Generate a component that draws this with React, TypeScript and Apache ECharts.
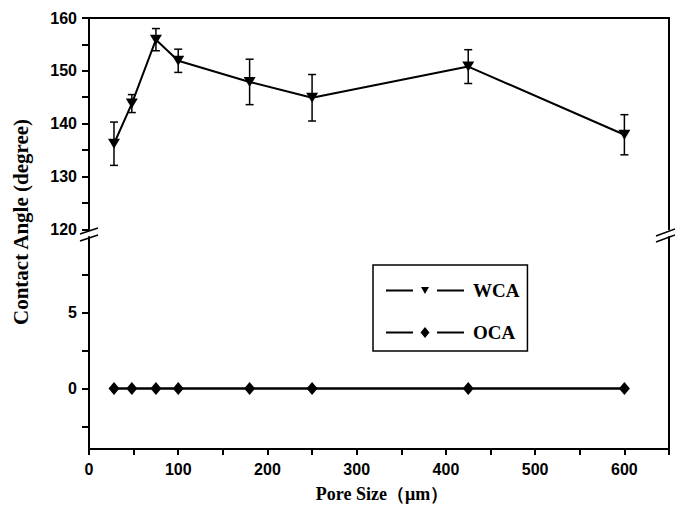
import React, { useEffect, useRef } from "react";
import * as echarts from "echarts";

const poreSize = [28, 48, 75, 100, 180, 250, 425, 600];
const wca = [136.2, 143.8, 155.9, 151.9, 147.9, 144.9, 150.8, 137.9];
const wcaErr = [4.1, 1.7, 2.1, 2.2, 4.3, 4.4, 3.2, 3.8];
const oca = [0, 0, 0, 0, 0, 0, 0, 0];

const upperLabels = [120, 130, 140, 150, 160];
const lowerTicks = [-2.5, 0, 2.5, 5, 7.5];
const lowerLabels = [0, 5];

const BLACK = "#000";
const tickFont = { fontFamily: "Liberation Sans", fontWeight: "bold" as const, fontSize: 16, color: BLACK };
const serif = "Liberation Serif";

// legend icons: line segment, gap, marker, gap, line segment (78 x 12 box)
const segs = "M0 5 L27 5 L27 7 L0 7 Z M51 5 L78 5 L78 7 L51 7 Z";
const dots = "M39 0 L39.02 0 L39.02 0.02 Z M39 12 L39.02 12 L39.02 11.98 Z";
const wcaIcon = "path://" + segs + " M35 2.5 L43 2.5 L39 9.5 Z " + dots;
const ocaIcon = "path://" + segs + " M39 0.5 L43.5 6 L39 11.5 L34.5 6 Z " + dots;

export default function App() {
  const ref = useRef<HTMLDivElement>(null);
  useEffect(() => {
    if (!ref.current) return;
    const chart = echarts.init(ref.current, null, { renderer: "svg" });
    const line = { lineStyle: { color: BLACK, width: 2 } };
    const option: any = {
      animation: false,
      backgroundColor: "#fff",
      grid: [
        { left: 89, top: 18, width: 580, height: 211.3 },
        { left: 89, top: 237, width: 580, height: 212 },
      ],
      xAxis: [
        {
          type: "value", gridIndex: 0, position: "top", min: 0, max: 650,
          axisLine: { show: true, onZero: false, ...line },
          axisTick: { show: false }, axisLabel: { show: false }, splitLine: { show: false },
        },
        {
          type: "value", gridIndex: 1, position: "bottom", min: 0, max: 650, interval: 50,
          axisLine: { show: true, onZero: false, ...line },
          axisTick: { show: true, length: 6, lineStyle: { color: BLACK, width: 2 } },
          axisLabel: {
            ...tickFont, margin: 12,
            formatter: (v: number) => (v % 100 === 0 && v <= 600 ? String(v) : ""),
          },
          splitLine: { show: false },
        },
      ],
      yAxis: [
        {
          type: "value", gridIndex: 0, position: "left", min: 120, max: 160, interval: 5,
          axisLine: { show: true, onZero: false, ...line },
          axisTick: { show: true, length: 7, lineStyle: { color: BLACK, width: 2 } },
          axisLabel: {
            ...tickFont, margin: 12,
            formatter: (v: number) => (upperLabels.includes(v) ? String(v) : ""),
          },
          splitLine: { show: false },
        },
        {
          type: "value", gridIndex: 0, position: "right", min: 120, max: 160,
          axisLine: { show: true, onZero: false, ...line },
          axisTick: { show: false }, axisLabel: { show: false }, splitLine: { show: false },
        },
        {
          type: "value", gridIndex: 1, position: "left", min: -4, max: 10,
          axisLine: { show: true, onZero: false, ...line },
          axisTick: { show: true, length: 7, customValues: lowerTicks, lineStyle: { color: BLACK, width: 2 } },
          axisLabel: { ...tickFont, margin: 12, customValues: lowerLabels },
          splitLine: { show: false },
        },
        {
          type: "value", gridIndex: 1, position: "right", min: -4, max: 10,
          axisLine: { show: true, onZero: false, ...line },
          axisTick: { show: false }, axisLabel: { show: false }, splitLine: { show: false },
        },
      ],
      legend: {
        data: [
          { name: "WCA", icon: wcaIcon },
          { name: "OCA", icon: ocaIcon },
        ],
        orient: "vertical",
        left: 373, top: 265,
        borderColor: BLACK, borderWidth: 1.5,
        padding: [16, 8, 9, 13],
        itemWidth: 78, itemHeight: 12, itemGap: 23,
        itemStyle: { color: BLACK, borderWidth: 0 },
        textStyle: { fontFamily: serif, fontWeight: "bold", fontSize: 19, color: BLACK, padding: [0, 0, 0, 4] },
      },
      series: [
        {
          name: "WCA", type: "line", xAxisIndex: 0, yAxisIndex: 0,
          data: poreSize.map((x, i) => [x, wca[i]]),
          symbol: "triangle", symbolRotate: 180, symbolSize: [12, 10],
          lineStyle: { color: BLACK, width: 2 }, itemStyle: { color: BLACK }, z: 3,
        },
        {
          name: "WCA err", type: "custom", xAxisIndex: 0, yAxisIndex: 0,
          data: poreSize.map((x, i) => [x, wca[i] - wcaErr[i], wca[i] + wcaErr[i]]),
          renderItem: (params: any, api: any) => {
            const lo = api.coord([api.value(0), api.value(1)]);
            const hi = api.coord([api.value(0), api.value(2)]);
            const w = 4;
            const style = { stroke: BLACK, lineWidth: 1.5 };
            return {
              type: "group",
              children: [
                { type: "line", shape: { x1: hi[0], y1: hi[1], x2: lo[0], y2: lo[1] }, style },
                { type: "line", shape: { x1: hi[0] - w, y1: hi[1], x2: hi[0] + w, y2: hi[1] }, style },
                { type: "line", shape: { x1: lo[0] - w, y1: lo[1], x2: lo[0] + w, y2: lo[1] }, style },
              ],
            };
          },
          z: 2,
        },
        {
          name: "OCA", type: "line", xAxisIndex: 1, yAxisIndex: 2,
          data: poreSize.map((x, i) => [x, oca[i]]),
          symbol: "diamond", symbolSize: [11, 13],
          lineStyle: { color: BLACK, width: 2.5 }, itemStyle: { color: BLACK }, z: 3,
        },
      ],
      graphic: [
        { type: "line", shape: { x1: 80, y1: 234, x2: 98, y2: 228 }, style: { stroke: BLACK, lineWidth: 1.5 } },
        { type: "line", shape: { x1: 80, y1: 241, x2: 98, y2: 235 }, style: { stroke: BLACK, lineWidth: 1.5 } },
        { type: "line", shape: { x1: 656, y1: 236, x2: 675, y2: 229 }, style: { stroke: BLACK, lineWidth: 1.5 } },
        { type: "line", shape: { x1: 656, y1: 242, x2: 675, y2: 235 }, style: { stroke: BLACK, lineWidth: 1.5 } },
        {
          type: "text", x: 21, y: 222, rotation: Math.PI / 2,
          style: { text: "Contact Angle (degree)", fontFamily: serif, fontWeight: "bold", fontSize: 21, fill: BLACK, textAlign: "center", textVerticalAlign: "middle" },
        },
        {
          type: "text", x: 382, y: 494,
          style: { text: "Pore Size（μm）", fontFamily: serif, fontWeight: "bold", fontSize: 18, fill: BLACK, textAlign: "center", textVerticalAlign: "middle" },
        },
      ],
    };
    chart.setOption(option);
    return () => chart.dispose();
  }, []);
  return <div ref={ref} style={{ position: "fixed", left: 0, top: 0, width: 675, height: 507 }} />;
}
